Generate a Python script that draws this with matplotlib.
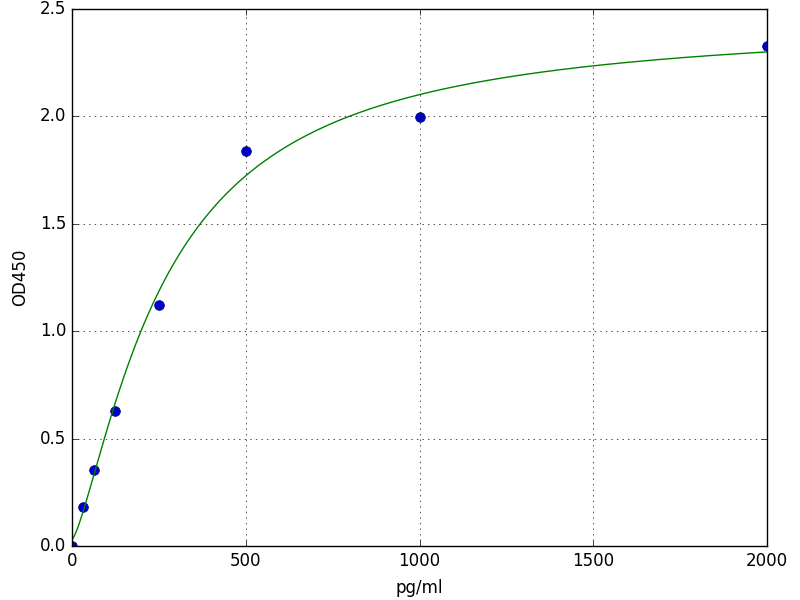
import numpy as np
import matplotlib
matplotlib.use("Agg")
import matplotlib.pyplot as plt

plt.style.use("classic")

conc = [0, 31.25, 62.5, 125, 250, 500, 1000, 2000]
od = [0.0, 0.18, 0.355, 0.63, 1.12, 1.84, 1.995, 2.33]

# 4PL fit parameters (estimated from the reference curve)
fit_a = 0.03
fit_b = 1.35
fit_c = 267.0
fit_d = 2.45

xs = np.linspace(0, 2000, 400)
ys = fit_d + (fit_a - fit_d) / (1 + (xs / fit_c) ** fit_b)

fig = plt.figure(figsize=(8, 6), dpi=100, facecolor="white")
ax = fig.add_axes([0.09, 0.09, 0.869, 0.895])
ax.plot(conc, od, "o", color="#0000cc", markeredgecolor="#00007a", markersize=7)
ax.plot(xs, ys, "g-")
ax.set_xlim(0, 2000)
ax.set_ylim(0, 2.5)
ax.set_xticks([0, 500, 1000, 1500, 2000])
ax.set_yticks([0.0, 0.5, 1.0, 1.5, 2.0, 2.5])
ax.grid(True)
ax.set_xlabel("pg/ml", labelpad=7)
ax.set_ylabel("OD450", labelpad=8)
fig.savefig("out.png", dpi=100, facecolor="white")
